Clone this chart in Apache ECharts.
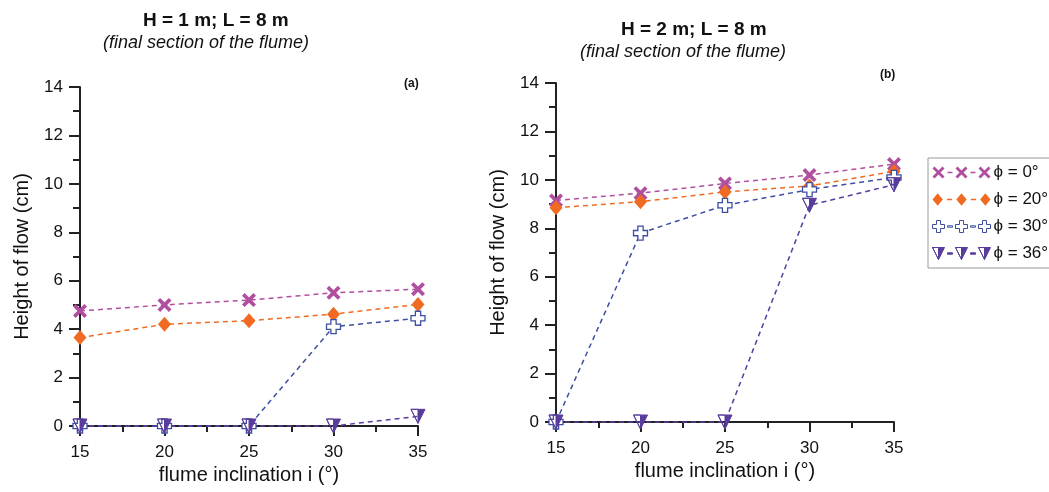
<!DOCTYPE html>
<html>
<head>
<meta charset="utf-8">
<script src="https://cdn.jsdelivr.net/npm/echarts@6/dist/echarts.min.js"></script>
<style>
  html, body { margin: 0; padding: 0; background: #fff; }
  #chart { width: 1049px; height: 492px; }
</style>
</head>
<body>
<div id="chart"></div>
<script>
// inclination of the flume (deg)
const inclinations = [15, 20, 25, 30, 35];
const seriesNames = ['\u03d5 = 0\u00b0', '\u03d5 = 20\u00b0', '\u03d5 = 30\u00b0', '\u03d5 = 36\u00b0'];

// panel (a): H = 1 m
const aPhi0 = [4.75, 5.0, 5.2, 5.5, 5.65];
const aPhi20 = [3.65, 4.2, 4.35, 4.62, 5.02];
const aPhi30 = [0, 0, 0, 4.1, 4.45];
const aPhi36 = [0, 0, 0, 0, 0.4];

// panel (b): H = 2 m
const bPhi0 = [9.15, 9.45, 9.85, 10.2, 10.65];
const bPhi20 = [8.85, 9.1, 9.5, 9.75, 10.35];
const bPhi30 = [0, 7.8, 8.95, 9.6, 10.1];
const bPhi36 = [0, 0, 0, 8.95, 9.8];

const FONT = '"Liberation Sans", Arial, sans-serif';

// marker shapes
const crossPath = 'path://M0,3 L3,0 L8,5 L13,0 L16,3 L11,8 L16,13 L13,16 L8,11 L3,16 L0,13 L5,8 Z';
const plusPath = 'path://M5,0 L11,0 L11,5 L16,5 L16,11 L11,11 L11,16 L5,16 L5,11 L0,11 L0,5 L5,5 Z';
// down triangle, right half filled (left half cut out by opposite winding)
const triPath = 'path://M0,0 L16,0 L8,16 Z M0,0 L8,16 L8,0 Z';

// legend icons: marker - marker - marker
const OFFS = [0, 23, 46];
const dashes = 'M15,5.3 L20,5.3 L20,6.7 L15,6.7 Z M38,5.3 L43,5.3 L43,6.7 L38,6.7 Z';
function iconOf(fn) {
  return 'path://' + OFFS.map(fn).join(' ') + ' ' + dashes;
}
const legendIcons = [
  iconOf(o => `M${o},2 L${o + 2},0 L${o + 6},4 L${o + 10},0 L${o + 12},2 L${o + 8},6 L${o + 12},10 L${o + 10},12 L${o + 6},8 L${o + 2},12 L${o},10 L${o + 4},6 Z`),
  iconOf(o => `M${o + 6},0 L${o + 11},6 L${o + 6},12 L${o + 1},6 Z`),
  iconOf(o => `M${o + 4},0 L${o + 8},0 L${o + 8},4 L${o + 12},4 L${o + 12},8 L${o + 8},8 L${o + 8},12 L${o + 4},12 L${o + 4},8 L${o},8 L${o},4 L${o + 4},4 Z`),
  iconOf(o => `M${o},0 L${o + 12},0 L${o + 6},12 Z M${o},0 L${o + 6},12 L${o + 6},0 Z`)
];

const styles = [
  { color: '#b04f9f', symbol: crossPath, size: 14, fill: '#b04f9f', border: 0 },
  { color: '#f06a22', symbol: 'diamond', size: [13, 15], fill: '#f06a22', border: 0 },
  { color: '#3d4fa3', symbol: plusPath, size: 14, fill: '#ffffff', border: 1.3 },
  { color: '#5a3c9c', symbol: triPath, size: 14, fill: '#5a3c9c', border: 1 }
];

function pairs(vals) {
  return inclinations.map((x, i) => [x, vals[i]]);
}

function makeSeries(vals, k, gridIdx) {
  const s = styles[k];
  return {
    name: seriesNames[k],
    type: 'line',
    xAxisIndex: gridIdx,
    yAxisIndex: gridIdx,
    data: pairs(vals),
    symbol: s.symbol,
    symbolSize: s.size,
    showAllSymbol: true,
    clip: false,
    lineStyle: { color: s.color, width: 1.5, type: [5, 4] },
    itemStyle: { color: s.fill, borderColor: s.color, borderWidth: s.border },
    emphasis: { disabled: true }
  };
}

function xAxis(gridIdx) {
  return {
    type: 'value', gridIndex: gridIdx, min: 15, max: 35, interval: 5,
    name: 'flume inclination i (\u00b0)', nameLocation: 'middle', nameGap: 37,
    nameTextStyle: { fontFamily: FONT, fontSize: 20, color: '#111' },
    axisLine: { lineStyle: { color: '#222', width: 2 } },
    axisTick: { length: 10, lineStyle: { color: '#222', width: 2 } },
    minorTick: { show: true, splitNumber: 2, length: 6, lineStyle: { color: '#222', width: 2 } },
    axisLabel: { fontFamily: FONT, fontSize: 17, color: '#111', margin: 18 },
    splitLine: { show: false }
  };
}

function yAxis(gridIdx) {
  return {
    type: 'value', gridIndex: gridIdx, min: 0, max: 14, interval: 2,
    name: 'Height of flow (cm)', nameLocation: 'middle', nameGap: 48,
    nameTextStyle: { fontFamily: FONT, fontSize: 20, color: '#111' },
    axisLine: { show: true, lineStyle: { color: '#222', width: 2 } },
    axisTick: { show: true, length: 11, lineStyle: { color: '#222', width: 2 } },
    minorTick: { show: true, splitNumber: 2, length: 7, lineStyle: { color: '#222', width: 2 } },
    axisLabel: { fontFamily: FONT, fontSize: 17, color: '#111', margin: 17 },
    splitLine: { show: false }
  };
}

const chart = echarts.init(document.getElementById('chart'), null, { renderer: 'canvas' });

const option = {
  backgroundColor: '#fff',
  animation: false,
  grid: [
    { left: 80, right: 631, top: 87, bottom: 66 },
    { left: 556, right: 155, top: 83, bottom: 70 }
  ],
  xAxis: [xAxis(0), xAxis(1)],
  yAxis: [yAxis(0), yAxis(1)],
  legend: {
    data: seriesNames.map((n, k) => ({
      name: n,
      icon: legendIcons[k],
      itemStyle: { color: styles[k].fill, borderColor: styles[k].color, borderWidth: k >= 2 ? 1 : 0 }
    })),
    orient: 'vertical',
    left: 928, top: 158,
    itemWidth: 58, itemHeight: 13, itemGap: 10,
    padding: [6, 8, 6, 4],
    borderColor: '#999', borderWidth: 1,
    textStyle: { fontFamily: FONT, fontSize: 17, color: '#111', padding: [0, 0, 0, -2] },
    selectedMode: false
  },
  graphic: [
    { type: 'text', left: 218 - 75, top: 11, style: { text: 'H = 1 m; L = 8 m', font: 'bold 19px ' + FONT, fill: '#111' } },
    { type: 'text', left: 103, top: 34, style: { text: '(final section of the flume)', font: 'italic 18px ' + FONT, fill: '#111' } },
    { type: 'text', left: 696 - 75, top: 20, style: { text: 'H = 2 m; L = 8 m', font: 'bold 19px ' + FONT, fill: '#111' } },
    { type: 'text', left: 580, top: 43, style: { text: '(final section of the flume)', font: 'italic 18px ' + FONT, fill: '#111' } },
    { type: 'text', left: 404, top: 78, style: { text: '(a)', font: 'bold 12px ' + FONT, fill: '#111' } },
    { type: 'text', left: 880, top: 69, style: { text: '(b)', font: 'bold 12px ' + FONT, fill: '#111' } }
  ],
  series: [
    makeSeries(aPhi0, 0, 0), makeSeries(aPhi20, 1, 0), makeSeries(aPhi30, 2, 0), makeSeries(aPhi36, 3, 0),
    makeSeries(bPhi0, 0, 1), makeSeries(bPhi20, 1, 1), makeSeries(bPhi30, 2, 1), makeSeries(bPhi36, 3, 1)
  ]
};

chart.setOption(option);
</script>
</body>
</html>
